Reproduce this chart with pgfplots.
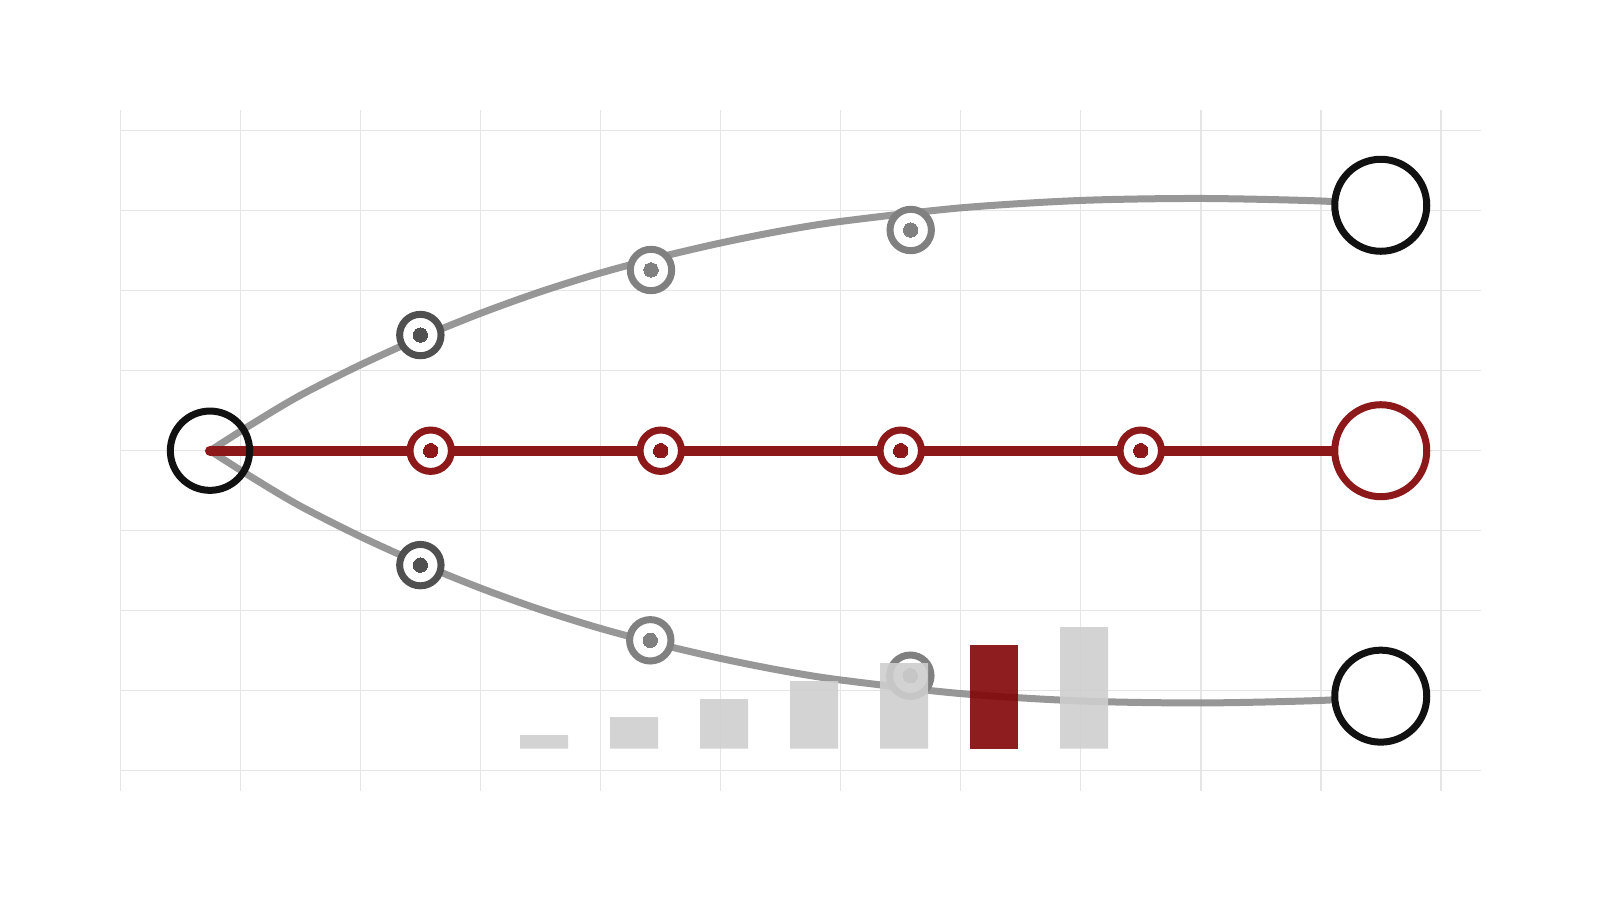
\documentclass[border=0pt]{standalone}
\usepackage{pgfplots}
\pgfplotsset{compat=1.18}

\definecolor{gridgray}{RGB}{229,229,229}
\definecolor{treered}{RGB}{140,24,26}
\definecolor{ringdark}{RGB}{80,80,80}
\definecolor{ringmid}{RGB}{128,128,128}
\definecolor{curvegray}{RGB}{140,140,140}
\definecolor{nodeblack}{RGB}{17,17,17}
\definecolor{bargray}{RGB}{206,206,206}
\definecolor{barred}{RGB}{129,4,6}

\begin{document}
\begin{tikzpicture}
	% page = 16cm x 9cm (1px = 0.1mm)
	\useasboundingbox (-1.207cm,-1.093cm) rectangle (14.793cm,7.907cm);
	
	\begin{axis}[
		at={(0,0)}, anchor=south west,
		scale only axis,
		width=13.6cm, height=6.807cm,
		xmin=0, xmax=11.333,
		ymin=-4.25, ymax=4.259,
		xtick={0,...,11}, ytick={-4,...,4},
		xticklabel=\empty, yticklabel=\empty,
		tick style={draw=none},
		axis line style={draw=none},
		grid=major,
		grid style={line width=0.15mm, draw=gridgray},
		clip=false,
		]
		
		%--- root node ---
		\addplot[nodeblack, only marks, mark=o, mark size=3.965mm, line width=0.7mm,
		mark options={line width=0.7mm}]
		coordinates {(0.744,0)};
		
		%--- grey branches ---
		\addplot[curvegray, opacity=0.9, line width=0.7mm, smooth, line cap=round, mark=none]
		coordinates {(0.744,0) (1.108,0.346) (1.494,0.69) (1.994,1.07) (2.494,1.41)
			(2.994,1.715) (3.494,1.985) (3.994,2.22) (4.494,2.42) (4.994,2.595)
			(5.494,2.745) (5.994,2.865) (6.994,3.035) (7.994,3.128) (8.994,3.153)
			(9.994,3.122) (10.5,3.068)};
		\addplot[curvegray, opacity=0.9, line width=0.7mm, smooth, line cap=round, mark=none]
		coordinates {(0.744,0) (1.108,-0.346) (1.494,-0.69) (1.994,-1.07) (2.494,-1.41)
			(2.994,-1.715) (3.494,-1.985) (3.994,-2.22) (4.494,-2.42) (4.994,-2.595)
			(5.494,-2.745) (5.994,-2.865) (6.994,-3.035) (7.994,-3.128) (8.994,-3.153)
			(9.994,-3.122) (10.5,-3.068)};
		
		%--- red trunk ---
		\addplot[treered, line width=1mm, line cap=round, mark=none]
		coordinates {(0.744,0) (10.5,0)};
		
		%--- leaves ---
		\addplot[nodeblack, only marks, mark=*, mark size=4.6mm, line width=0.7mm,
		mark options={fill=white, line width=0.7mm}]
		coordinates {(10.5,3.068) (10.5,-3.068)};
		\addplot[treered, only marks, mark=*, mark size=4.6mm, line width=0.7mm,
		mark options={fill=white, line width=0.7mm}]
		coordinates {(10.5,0)};
		
		%--- ringed nodes on the trunk ---
		\addplot[treered, only marks, mark=*, mark size=2.07mm, line width=0.7mm,
		mark options={fill=white, line width=0.7mm}]
		coordinates {(2.583,0) (4.5,0) (6.5,0) (8.5,0)};
		\addplot[treered, only marks, mark=*, mark size=0.72mm, line width=0pt,
		mark options={fill=treered, line width=0pt}]
		coordinates {(2.583,0) (4.5,0) (6.5,0) (8.5,0)};
		
		%--- ringed nodes on the branches ---
		\addplot[ringdark, only marks, mark=*, mark size=2.07mm, line width=0.7mm,
		mark options={fill=white, line width=0.7mm}]
		coordinates {(2.497,1.446) (2.497,-1.43)};
		\addplot[ringdark, only marks, mark=*, mark size=0.72mm, line width=0pt,
		mark options={fill=ringdark, line width=0pt}]
		coordinates {(2.497,1.446) (2.497,-1.43)};
		\addplot[ringmid, only marks, mark=*, mark size=2.07mm, line width=0.7mm,
		mark options={fill=white, line width=0.7mm}]
		coordinates {(4.419,2.259) (6.583,2.759) (4.413,-2.37) (6.580,-2.8125)};
		\addplot[ringmid, only marks, mark=*, mark size=0.72mm, line width=0pt,
		mark options={fill=ringmid, line width=0pt}]
		coordinates {(4.419,2.259) (6.583,2.759) (4.413,-2.37) (6.580,-2.8125)};
		
	\end{axis}
	
	%--- bars: same frame, baseline at y = -3.725 of the axis above ---
	\begin{axis}[
		at={(0,0)}, anchor=south west,
		scale only axis,
		width=13.6cm, height=6.807cm,
		xmin=0, xmax=11.333,
		ymin=-0.525, ymax=7.984,
		hide axis,
		]
		\addplot[ybar, bar width=0.4, bar shift=0pt, fill=bargray, draw=none, fill opacity=0.9]
		coordinates {(3.528,0.171) (4.278,0.396) (5.028,0.621) (5.778,0.846)
			(6.528,1.071) (8.028,1.521)};
		\addplot[ybar, bar width=0.4, bar shift=0pt, fill=barred, draw=none, fill opacity=0.9]
		coordinates {(7.278,1.296)};
	\end{axis}
	
\end{tikzpicture}
\end{document}
